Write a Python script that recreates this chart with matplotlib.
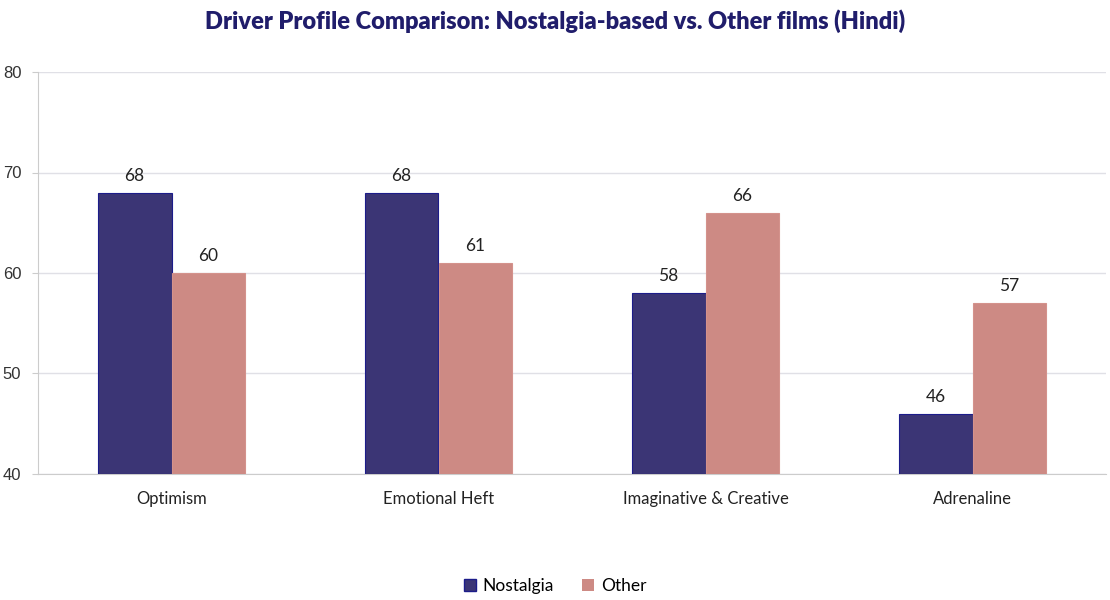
import matplotlib.pyplot as plt
import numpy as np
from matplotlib.patches import Patch

categories = ['Optimism', 'Emotional Heft', 'Imaginative & Creative', 'Adrenaline']
nostalgia = [68, 68, 58, 46]
other = [60, 61, 66, 57]
yticks = [40, 50, 60, 70, 80]

navy = '#3b3575'
pink = '#cd8a84'

fig = plt.figure(figsize=(11.1, 6), dpi=100)
ax = fig.add_axes([38 / 1110, 1 - 474 / 600, 1068 / 1110, 402 / 600])

x = np.arange(len(categories))
w = 0.277
b1 = ax.bar(x - w / 2, [v - 40 for v in nostalgia], w, bottom=40, color=navy,
            edgecolor='#1c1c8a', linewidth=0.8, zorder=3)
b2 = ax.bar(x + w / 2, [v - 40 for v in other], w, bottom=40, color=pink,
            edgecolor='#d4928c', linewidth=0.8, zorder=3)

for xi, v in zip(x, nostalgia):
    ax.text(xi - w / 2, v + 0.9, str(v), ha='center', va='bottom',
            fontsize=12.5, family='Lato', color='#222222')
for xi, v in zip(x, other):
    ax.text(xi + w / 2, v + 0.9, str(v), ha='center', va='bottom',
            fontsize=12.5, family='Lato', color='#222222')

ax.set_xlim(-0.5, len(categories) - 0.5)
ax.set_ylim(40, 80)
ax.set_yticks(yticks)
ax.set_yticklabels([str(t) for t in yticks], family='Liberation Sans',
                   fontsize=12, color='#333333')
ax.set_xticks(x)
ax.set_xticklabels(categories, family='Lato', fontsize=12, color='#222222')
ax.tick_params(axis='x', length=0, pad=12)
ax.tick_params(axis='y', length=4, color='#cccccc', pad=8)
ax.grid(axis='y', color='#e0e0e6', linewidth=1, zorder=0)
for s in ['top', 'right']:
    ax.spines[s].set_visible(False)
ax.spines['left'].set_color('#cccccc')
ax.spines['bottom'].set_color('#cccccc')

fig.suptitle('Driver Profile Comparison: Nostalgia-based vs. Other films (Hindi)',
             y=0.985, fontsize=17, fontweight='heavy', family='Lato', color='#201d6b')

handles = [Patch(facecolor=navy, edgecolor='#1c1c8a'), Patch(facecolor=pink)]
fig.legend(handles, ['Nostalgia', 'Other'], loc='center', bbox_to_anchor=(0.5, 1 - 586 / 600),
           ncol=2, frameon=False, prop={'family': 'Lato', 'size': 12.5},
           handlelength=0.7, handleheight=0.7, handletextpad=0.4, columnspacing=1.6)

fig.savefig('out.png', dpi=100)
